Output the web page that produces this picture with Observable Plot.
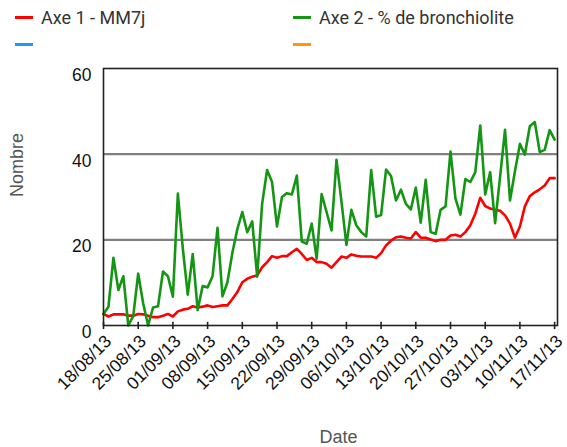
<!DOCTYPE html>
<html>
<head>
<meta charset="utf-8">
<script src="https://cdn.jsdelivr.net/npm/d3@7"></script>
<script src="https://cdn.jsdelivr.net/npm/@observablehq/plot@0.6"></script>
<style>
  html, body { margin: 0; padding: 0; background: #fff; }
  body { width: 567px; height: 447px; overflow: hidden; font-family: "Liberation Sans", Arial, sans-serif; }
  #legend { position: relative; height: 56px; width: 567px; }
  .item { position: absolute; display: flex; align-items: center; font-family: Roboto, "Liberation Sans", Arial, sans-serif; font-size: 18px; color: #333; white-space: nowrap; }
  .dash { display: inline-block; width: 18px; height: 3px; margin-right: 8px; }
</style>
</head>
<body>
<div id="legend"></div>
<div id="chart"></div>
<script>
// ---- data ----
const startDate = "2013-08-18";
const seriesNames = ["Axe 1 - MM7j", "Axe 2 - % de bronchiolite", "", ""];
const seriesColors = ["#ff0000", "#149614", "#2196f3", "#ff9800"];
const mm7j = [2.7, 2.1, 2.6, 2.6, 2.6, 2.3, 2.3, 2.7, 2.6, 2.3,
  1.95, 1.95, 2.3, 2.7, 2.1, 3.3, 3.7, 3.9, 4.5, 4.2,
  4.4, 4.7, 4.3, 4.5, 4.7, 4.7, 6.2, 7.8, 10.1, 10.9,
  11.4, 11.7, 13.6, 14.8, 16.2, 15.8, 16.2, 16.2, 17.1, 17.9,
  16.7, 15.3, 15.8, 14.8, 14.8, 14.4, 13.5, 14.8, 16.1, 15.8,
  16.6, 16.3, 16.1, 16.1, 16.1, 15.8, 16.9, 18.7, 19.8, 20.6,
  20.8, 20.5, 20.3, 21.8, 20.5, 20.5, 20.1, 19.7, 20.0, 20.0,
  21.0, 21.2, 20.8, 21.8, 23.4, 26.1, 29.8, 27.9, 27.3, 27.0,
  26.8, 25.7, 23.8, 20.5, 23.1, 27.8, 30.2, 31.1, 31.8, 32.7,
  34.4, 34.4];
const bronchiolite = [2.7, 4.4, 15.8, 8.3, 11.5, 0, 2.2, 12.1, 5.2, 0,
  4.2, 4.5, 12.6, 11.5, 6.7, 30.8, 18, 7.2, 16.7, 3.6,
  9.2, 8.9, 11.5, 22.8, 6.8, 10.1, 17, 22.5, 26.5, 21.8,
  24.3, 11.4, 28.4, 36.3, 33.5, 23.1, 30, 30.9, 30.6, 35,
  19.6, 19.1, 23.8, 15.6, 30.7, 26.5, 22.2, 38.7, 29, 18.8,
  27, 23.4, 21.8, 20.8, 36.3, 25.4, 25.8, 36.4, 34.9, 29.2,
  31.7, 28.4, 27.1, 32.2, 24, 34, 21.8, 21.4, 27, 27.8,
  40.6, 29.6, 25.9, 34.2, 33.5, 35.8, 46.7, 30.6, 35.8, 23.9,
  34.7, 45.7, 29.2, 36, 42.4, 39.9, 46.5, 47.5, 40.5, 41,
  45.6, 43.4];
const xTickLabels = ["18/08/13", "25/08/13", "01/09/13", "08/09/13", "15/09/13", "22/09/13", "29/09/13",
  "06/10/13", "13/10/13", "20/10/13", "27/10/13", "03/11/13", "10/11/13", "17/11/13"];
const yTicks = [0, 20, 40, 60];
const yGrid = [20, 40];

// ---- legend ----
const legendPos = [[15, 17], [293, 17], [15, 44], [293, 44]];
const legend = document.getElementById("legend");
seriesNames.forEach((name, i) => {
  const it = document.createElement("div");
  it.className = "item";
  it.style.left = legendPos[i][0] + "px";
  it.style.top = (legendPos[i][1] - 11) + "px";
  it.style.height = "22px";
  const dash = document.createElement("span");
  dash.className = "dash";
  dash.style.background = seriesColors[i];
  it.appendChild(dash);
  const t = document.createElement("span");
  t.textContent = name;
  it.appendChild(t);
  legend.appendChild(it);
});

// ---- table ----
const parseDay = d3.timeParse("%d/%m/%y");
const t0 = d3.timeParse("%Y-%m-%d")(startDate);
const rows = [];
mm7j.forEach((v, i) => rows.push({date: d3.timeDay.offset(t0, i), value: v, s: 0}));
bronchiolite.forEach((v, i) => rows.push({date: d3.timeDay.offset(t0, i), value: v, s: 1}));
const tickDates = xTickLabels.map(parseDay);
const lastDay = tickDates[tickDates.length - 1];
const fmt = d3.timeFormat("%d/%m/%y");

const chart = Plot.plot({
  width: 567,
  height: 391,
  marginLeft: 103,
  marginRight: 10,
  marginTop: 12,
  marginBottom: 122,
  style: {fontFamily: "'Liberation Sans', Arial, sans-serif", background: "#fff"},
  x: {type: "time", domain: [tickDates[0], d3.timeHour.offset(lastDay, 14)], axis: null},
  y: {domain: [0, 60], axis: null},
  marks: [
    Plot.ruleY(yGrid, {stroke: "#808080", strokeWidth: 2.2}),
    Plot.line(rows.filter(d => d.s === 0), {x: "date", y: "value", stroke: seriesColors[0], strokeWidth: 2.6}),
    Plot.line(rows.filter(d => d.s === 1), {x: "date", y: "value", stroke: seriesColors[1], strokeWidth: 2.6}),
    Plot.frame({stroke: "#222", strokeWidth: 1.6}),
    Plot.ruleX(tickDates, {x: d => d, y1: -0.95, y2: 0.75, stroke: "#222", strokeWidth: 1.6}),
    Plot.text(tickDates, {x: d => d, text: d => fmt(d), frameAnchor: "bottom", rotate: -45,
      textAnchor: "end", lineAnchor: "middle", dx: 5, dy: 13, fontSize: 17.5, fill: "#111"}),
    Plot.text(yTicks, {y: d => d, text: d => String(d), frameAnchor: "left", textAnchor: "end",
      lineAnchor: "top", dx: -12, fontSize: 17.5, fill: "#111"}),
    Plot.text(["Nombre"], {frameAnchor: "left", rotate: -90, dx: -86, fontSize: 18, fill: "#555"}),
    Plot.text(["Date"], {frameAnchor: "bottom", lineAnchor: "bottom", dx: 8, dy: 117, fontSize: 18, fill: "#555"})
  ]
});
document.getElementById("chart").appendChild(chart);
</script>
</body>
</html>
